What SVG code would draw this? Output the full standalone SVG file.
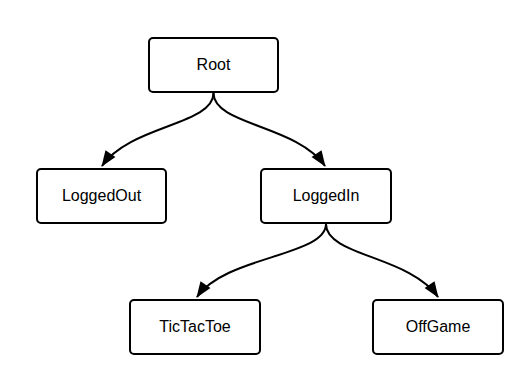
<svg xmlns="http://www.w3.org/2000/svg" width="527" height="392" viewBox="0 0 527 392">
<style>
.box{fill:#fff;stroke:#000;stroke-width:2}
.lbl{font-family:"Liberation Sans",Arial,sans-serif;font-size:16px;fill:#000;text-anchor:middle}
.edge{fill:none;stroke:#000;stroke-width:2}
</style>
<defs>
<marker id="arr" markerUnits="userSpaceOnUse" markerWidth="20" markerHeight="16" viewBox="-17 -8 20 16" refX="0" refY="0" orient="auto">
<path d="M1,0 L-15,-6 L-15,6 Z" fill="#000"/>
</marker>
</defs>
<rect width="527" height="392" fill="#fff"/>
<g id="edges">
<path class="edge" d="M213.5,93 C213.5,125 130,125 102,166" marker-end="url(#arr)"/>
<path class="edge" d="M213.5,93 C213.5,125 297,125 325,166" marker-end="url(#arr)"/>
<path class="edge" d="M326,224 C326,256 225,256 197,297" marker-end="url(#arr)"/>
<path class="edge" d="M326,224 C326,256 410,256 438,297" marker-end="url(#arr)"/>
</g>
<g id="root"><rect class="box" x="149" y="38" width="129" height="54" rx="4"/><text class="lbl" x="213.5" y="69.5">Root</text></g>
<g id="loggedout"><rect class="box" x="37" y="169" width="129" height="54" rx="4"/><text class="lbl" x="101.5" y="200.5">LoggedOut</text></g>
<g id="loggedin"><rect class="box" x="261" y="169" width="130" height="54" rx="4"/><text class="lbl" x="326" y="200.5">LoggedIn</text></g>
<g id="tictactoe"><rect class="box" x="130" y="300" width="130" height="54" rx="4"/><text class="lbl" x="195" y="331.5">TicTacToe</text></g>
<g id="offgame"><rect class="box" x="373" y="300" width="130" height="54" rx="4"/><text class="lbl" x="438" y="331.5">OffGame</text></g>
</svg>
